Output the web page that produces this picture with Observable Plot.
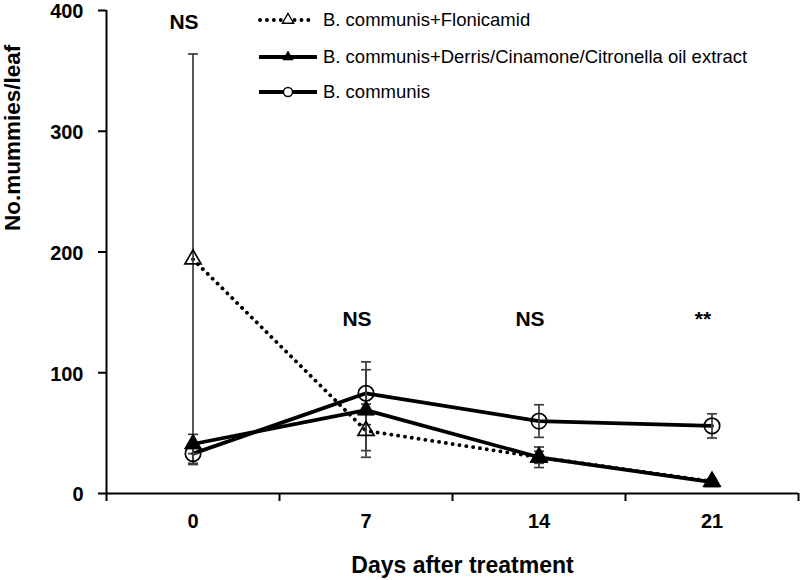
<!DOCTYPE html>
<html>
<head>
<meta charset="utf-8">
<script src="https://cdn.jsdelivr.net/npm/d3@7"></script>
<script src="https://cdn.jsdelivr.net/npm/@observablehq/plot@0.6"></script>
<style>
  html, body { margin: 0; padding: 0; background: #fff; }
  #wrap { position: relative; width: 800px; height: 580px; font-family: "Liberation Sans", Arial, sans-serif; }
  #legend { position: absolute; left: 0; top: 0; pointer-events: none; }
</style>
</head>
<body>
<div id="wrap"></div>
<script>
// ---- data ----
const days = [0, 7, 14, 21];
const seriesNames = [
  "B. communis+Flonicamid",
  "B. communis+Derris/Cinamone/Citronella oil extract",
  "B. communis"
];
const flonicamidMean = [194, 52, 30, 10];
const flonicamidErr  = [170, 22, 5, 2];
const derrisMean     = [41, 69, 30, 9.5];
const derrisErr      = [8, 33.5, 8.5, 2];
const communisMean   = [33, 83, 60, 56];
const communisErr    = [8, 26, 13.5, 10];
const sigLabels = ["NS", "NS", "NS", "**"];
const sigY      = [390, 144, 144, 144];
const yTicks = [0, 100, 200, 300, 400];
const xTitle = "Days after treatment";
const yTitle = "No.mummies/leaf";

// ---- tables ----
const means = [flonicamidMean, derrisMean, communisMean];
const errs = [flonicamidErr, derrisErr, communisErr];
const rows = [];
seriesNames.forEach((s, i) => days.forEach((d, j) => rows.push({
  series: s, idx: i, day: d, mean: means[i][j], lo: means[i][j] - errs[i][j], hi: means[i][j] + errs[i][j]
})));
const sig = days.map((d, j) => ({day: d, y: sigY[j], label: sigLabels[j]}));
const half = (days[1] - days[0]) / 2;
const xDomain = [days[0] - half, days[days.length - 1] + half];
const bounds = d3.range(days.length + 1).map(k => xDomain[0] + k * 2 * half);

const capSymbol = { draw(ctx) { ctx.moveTo(-5, 0); ctx.lineTo(5, 0); } };
const errColor = "#3c3c3c";

const chart = Plot.plot({
  width: 800, height: 580,
  marginLeft: 106, marginRight: 2, marginTop: 10, marginBottom: 87,
  style: { fontFamily: "'Liberation Sans', Arial, sans-serif", fontWeight: "bold", background: "white", color: "black", overflow: "visible" },
  x: { domain: xDomain },
  y: { domain: [0, 400] },
  marks: [
    // lines
    Plot.line(rows.filter(r => r.idx === 0), { x: "day", y: "mean", stroke: "black", strokeWidth: 3.8, strokeDasharray: "0.1,6.8", strokeLinecap: "round" }),
    Plot.line(rows.filter(r => r.idx === 1), { x: "day", y: "mean", stroke: "black", strokeWidth: 3.8 }),
    Plot.line(rows.filter(r => r.idx === 2), { x: "day", y: "mean", stroke: "black", strokeWidth: 3.8 }),
    // error bars
    Plot.ruleX(rows, { x: "day", y1: "lo", y2: "hi", stroke: errColor, strokeWidth: 1.7 }),
    Plot.dot(rows, { x: "day", y: "lo", symbol: capSymbol, r: 5, fill: "none", stroke: errColor, strokeWidth: 1.7 }),
    Plot.dot(rows, { x: "day", y: "hi", symbol: capSymbol, r: 5, fill: "none", stroke: errColor, strokeWidth: 1.7 }),
    // markers
    Plot.dot(rows.filter(r => r.idx === 0), { x: "day", y: "mean", symbol: "triangle", r: 6, fill: "none", stroke: "black", strokeWidth: 1.7 }),
    Plot.dot(rows.filter(r => r.idx === 1), { x: "day", y: "mean", symbol: "triangle", r: 6.3, fill: "black", stroke: "black", strokeWidth: 1 }),
    Plot.dot(rows.filter(r => r.idx === 2), { x: "day", y: "mean", symbol: "circle", r: 7.7, fill: "none", stroke: "black", strokeWidth: 1.7 }),
    // significance labels
    Plot.text(sig, { x: "day", y: "y", text: "label", dx: -9, fontSize: 21, fontWeight: "bold", fill: "black" }),
    // axes
    Plot.ruleY([0], { stroke: "black", strokeWidth: 2 }),
    Plot.ruleX([xDomain[0]], { stroke: "black", strokeWidth: 2 }),
    Plot.axisY(yTicks, { tickSize: 8, tickFormat: () => "", strokeWidth: 2, label: null }),
    Plot.axisY(yTicks, { tickSize: 0, tickPadding: 23, fontSize: 20, fontWeight: "bold", dy: 1.5, label: null }),
    Plot.axisX(bounds, { tickSize: 8, tickFormat: () => "", strokeWidth: 2, label: null }),
    Plot.axisX(days, { tickSize: 0, tickPadding: 20, fontSize: 20, fontWeight: "bold", label: null }),
    Plot.text([xTitle], { frameAnchor: "bottom", dx: 10, dy: 79, fontSize: 23, fontWeight: "bold", fill: "black" }),
    Plot.text([yTitle], { frameAnchor: "left", rotate: -90, dx: -94, dy: -21, fontSize: 22.5, fontWeight: "bold", fill: "black" })
  ]
});
const wrap = document.getElementById("wrap");
wrap.appendChild(chart);

// ---- legend (HTML overlay drawn with d3) ----
const legendRows = [20, 57, 92];
const lg = d3.select(wrap).append("svg").attr("id", "legend").attr("width", 800).attr("height", 110);
seriesNames.forEach((name, i) => {
  const g = lg.append("g").attr("transform", `translate(0,${legendRows[i]})`);
  const ln = g.append("line").attr("x1", 259).attr("x2", 317).attr("y1", 0).attr("y2", 0)
    .attr("stroke", "black").attr("stroke-width", 3.8);
  if (i === 0) ln.attr("stroke-dasharray", "0.1,6.8").attr("stroke-linecap", "round").attr("x1", 260).attr("x2", 314);
  if (i === 0) {
    g.append("path").attr("d", d3.symbol(d3.symbolTriangle, 55)()).attr("transform", "translate(288,0)")
      .attr("fill", "white").attr("stroke", "black").attr("stroke-width", 1.4);
  } else if (i === 1) {
    g.append("path").attr("d", d3.symbol(d3.symbolTriangle, 55)()).attr("transform", "translate(288,0)")
      .attr("fill", "black");
  } else {
    g.append("circle").attr("cx", 288).attr("cy", 0).attr("r", 4.5).attr("fill", "white").attr("stroke", "black").attr("stroke-width", 1.4);
  }
  g.append("text").attr("x", 323).attr("y", 0).attr("dy", "0.35em")
    .attr("font-family", "'Liberation Sans', Arial, sans-serif").attr("font-size", 18.5)
    .attr("fill", "black").text(name);
});
</script>
</body>
</html>
